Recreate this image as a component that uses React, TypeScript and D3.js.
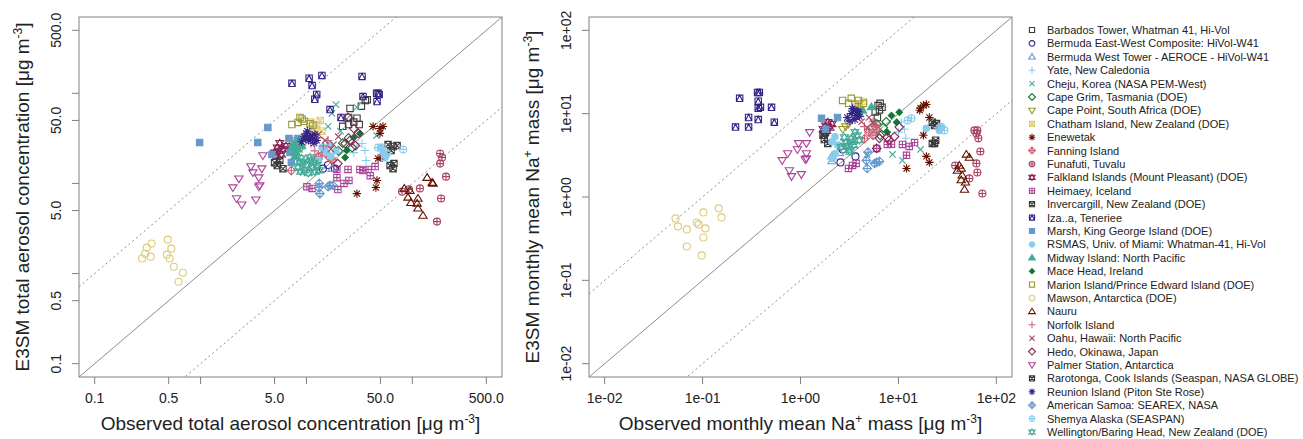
import * as d3 from 'd3';
import React from 'react';

// site names, in legend order
const siteNames = [
  'Barbados Tower, Whatman 41, Hi-Vol',
  'Bermuda East-West Composite: HiVol-W41',
  'Bermuda West Tower - AEROCE - HiVol-W41',
  'Yate, New Caledonia',
  'Cheju, Korea (NASA PEM-West)',
  'Cape Grim, Tasmania (DOE)',
  'Cape Point, South Africa (DOE)',
  'Chatham Island, New Zealand (DOE)',
  'Enewetak',
  'Fanning Island',
  'Funafuti, Tuvalu',
  'Falkland Islands (Mount Pleasant) (DOE)',
  'Heimaey, Iceland',
  'Invercargill, New Zealand (DOE)',
  'Iza..a, Teneriee',
  'Marsh, King George Island (DOE)',
  'RSMAS, Univ. of Miami: Whatman-41, Hi-Vol',
  'Midway Island: North Pacific',
  'Mace Head, Ireland',
  'Marion Island/Prince Edward Island (DOE)',
  'Mawson, Antarctica (DOE)',
  'Nauru',
  'Norfolk Island',
  'Oahu, Hawaii: North Pacific',
  'Hedo, Okinawa, Japan',
  'Palmer Station, Antarctica',
  'Rarotonga, Cook Islands (Seaspan, NASA GLOBE)',
  'Reunion Island (Piton Ste Rose)',
  'American Samoa: SEAREX, NASA',
  'Shemya Alaska (SEASPAN)',
  'Wellington/Baring Head, New Zealand (DOE)',
];

const palette = ['#3a3a3a', '#332288', '#6699CC', '#88CCEE', '#44AA99', '#117733', '#999933',
  '#DDCC77', '#661100', '#CC6677', '#AA4466', '#882255', '#AA4499'];

// total aerosol: [observed, E3SM]
const totBarbados = [[25.8,68],[22,43],[25,45],[30,53],[31.5,45],[33,72],[36,83],[37.5,85],[46,100],[25,54],[28,48]];
const totBermudaEW = [[18.6,14.6],[14.3,14.6],[16,16]];
const totBermudaWT = [[17.5,14.6],[13,20],[15,24]];
const totYate = [[33.5,27.7],[35.7,23.2],[36.5,18],[30,26],[28,22]];
const totCheju = [[19,75],[17.4,60],[16,43],[30,70],[46,34],[24,52],[21,38]];
const totCapeGrim = [[22,28],[25,32],[27,25],[20,23]];
const totCapePoint = [[7.5,27],[8,30],[9,25],[10,33]];
const totChatham = [[11,48],[12.5,45],[13.5,50],[12,40],[14,38],[11.5,36]];
const totEnewetak = [[42.6,42.9],[49.5,40.7],[52.8,42.9],[47.4,18.9],[52,19.4],[46.4,10.8],[45.3,9],[30,7.7],[49.5,35.9]];
const totFanning = [[7.2,13.9],[16.5,19.4],[17.5,18.5],[15,22],[13,20]];
const totFunafuti = [[183,21.5],[191,19.4],[183,16.6],[208,11.9],[187,6.8],[171,3.77],[118,8.8],[80,8.1],[93,8.6]];
const totFalkland = [[5,22],[5.3,25],[5.6,28],[6,24],[5.2,20],[5.8,21],[6.4,26],[5.5,23]];
const totHeimaey = [[10.1,9.2],[11.3,8.8],[19.4,11.6],[19.4,14.3],[22.6,10],[24.7,14.3],[25.2,10.8],[32,14.3],[34.2,13.9],[38.2,14.3],[40,12.2],[44.5,15.4],[19.8,8.55]];
const totInvercargill = [[5.6,18],[6,14.6],[5.3,15.8],[5,17]];
const totIzana = [[7.3,129],[10.6,147],[11.3,122],[14,158],[12.5,97],[12,86],[16.7,66],[33.5,154],[34.2,92],[46.4,81],[47.5,100],[48.6,97],[21.2,54]];
const totMarsh = [[0.98,28.5],[3.47,28.5],[4.32,41.8],[4.72,20.9],[6.84,31.5],[7,22],[7.2,17.1],[7.5,25],[8.3,31.5]];
const totRsmas = [[14,25],[15.5,22],[16.5,27],[17,20],[50,25],[53,22],[56,20],[13,18],[19,23]];
const totMidway = [[7.3,25],[7.6,27],[8,22],[8.3,24],[7.8,20],[9,26],[8.5,30]];
const totMaceHead = [[28,32.4],[32,35.9],[24,23.2],[23.2,19.4]];
const totMarion = [[8.7,54],[9.1,52],[7.3,45],[8.3,47.5],[10.8,46],[9.5,49],[11.5,44]];
const totMawson = [[0.28,1.47],[0.31,1.94],[0.345,2.15],[0.3,1.66],[0.338,1.54],[0.49,2.38],[0.53,1.89],[0.48,1.62],[0.51,1.47],[0.56,1.19],[0.68,1.02],[0.62,0.81]];
const totNauru = [[138,11.6],[154,10.2],[157,10],[84,8.8],[95,8.3],[91,7],[113,6.8],[97,6.1],[111,6],[113,5.3],[126,4.4]];
const totNorfolk = [[11,28],[13,32],[14.5,26],[12,23],[16,30]];
const totOahu = [[13,35],[15,30],[18,27],[20,33],[17,24]];
const totHedo = [[19.8,16.6],[24.7,54],[28,40.7],[31,35.9],[23.2,27.7],[25.8,30],[29,26.3]];
const totPalmer = [[3.88,20.4],[2.99,15.4],[3.79,14.6],[3.12,13.2],[3.55,11.6],[2.3,11.3],[2.02,9],[3.63,9.5],[3.55,9.2],[2.19,6.8],[2.45,5.8],[3.33,6.6]];
const totRarotonga = [[59,27],[65.8,25.7],[71.8,26.3],[61.7,15.8],[65.8,14.6],[67,16.6],[63,23.2]];
const totReunion = [[9.5,33],[10,36],[10.5,30],[11,34],[11.5,31],[9,29],[12,35],[10.2,38],[11.8,28],[9.8,31],[10.8,32.5],[12.5,30]];
const totSamoa = [[13.1,9],[13.4,7.7],[16,9.2],[16.7,9.5],[17.8,9.5],[13.2,10]];
const totShemya = [[47.5,25],[52,25],[57.7,21.5],[82,23.8],[55,19.4]];
const totWellington = [[8.3,15],[8.8,13.5],[9.2,17],[9.6,14],[10,16],[10.4,13],[11,18],[11.5,15],[12,13.5],[12.6,16],[9,19],[10.8,19.5],[13.2,14],[8.6,17.5],[11.8,17]];

// Na+ monthly mean mass: [observed, E3SM]
const naBarbados = [[6.5,13.3],[6.8,11.9],[6.4,11.1],[6.1,9],[5.8,10.5],[6.2,12.5]];
const naBermudaEW = [[3.64,3.07],[2.56,2.6],[2.7,3.72]];
const naBermudaWT = [[2.1,2.7],[2.1,3.1],[2.5,3.4]];
const naYate = [[11.9,5.06],[10.7,7.9],[11.5,6.5],[10,6]];
const naCheju = [[4.8,3.24],[8.7,3.24],[11,2.75],[16.8,3.72],[6.3,5.8],[5.5,8]];
const naCapeGrim = [[6,7.5],[7,6.8],[7.5,8],[6.5,5.5]];
const naCapePoint = [[2.9,7],[3.1,7.5],[2.7,6.5]];
const naChatham = [[3.7,12],[4,13],[4.4,14],[4.2,11],[3.9,10.5]];
const naEnewetak = [[16.8,11.6],[18,12.6],[19.3,12.9],[20.7,9],[18,5.5],[19.3,3.07],[20.7,2.6],[12.1,2.2],[16.5,11]];
const naFanning = [[5,6],[5.5,5.5],[6,6.5],[4.5,5],[5.8,7]];
const naFunafuti = [[59.7,6.3],[64,6.3],[62.6,5.8],[65.5,5.06],[68.7,3.52],[62.6,2.53],[64,1.97],[72,1.1],[53,1.67],[38,2.39]];
const naFalkland = [[1.7,6.5],[1.8,7.2],[1.9,7.9],[2,6.8],[1.75,5.8],[2.1,7.5],[1.85,6.2]];
const naHeimaey = [[3.09,2.2],[3.4,2.39],[3.7,2.53],[7.7,4.27],[11,4.27],[12.9,4.05],[14.6,4.5],[12.1,3.16],[6,3.83],[8.5,4.3]];
const naInvercargill = [[1.7,5.5],[1.9,4.4],[1.8,6],[1.75,4.9]];
const naIzana = [[0.239,15.3],[0.295,9],[0.364,18],[0.38,18],[0.37,14.1],[0.39,11.9],[0.37,11.6],[0.506,11.9],[0.54,7.9],[0.37,8.5],[0.217,6.9],[0.295,6.9]];
const naMarsh = [[1.64,8.8],[2.39,9],[1.8,6.5]];
const naRsmas = [[2.1,4.6],[2.25,5.3],[2.1,2.9],[2.25,3.3],[19.3,6.7],[27.4,6.9],[26.2,6.3],[2.4,4.2]];
const naMidway = [[5.3,12],[4.3,11],[4,10]];
const naMaceHead = [[8.5,9.5],[10.2,10.4],[9.6,7.9],[7.7,5.97]];
const naMarion = [[2.69,14.4],[3.1,13.3],[3.9,14.4],[4.4,13.3],[3.3,15.3],[3.6,13]];
const naMawson = [[0.053,0.553],[0.056,0.444],[0.069,0.408],[0.069,0.255],[0.087,0.495],[0.091,0.469],[0.102,0.653],[0.107,0.42],[0.102,0.327],[0.098,0.199],[0.146,0.73],[0.156,0.569]];
const naNauru = [[41.9,2.39],[43.8,2.2],[40,2.08],[49.4,3.24],[53,2.98],[44.8,1.82],[48.4,1.5],[47.3,1.23],[43.8,1.6]];
const naNorfolk = [[4.5,7],[5,6.5],[5.5,8],[6,7.3]];
const naOahu = [[4.2,8],[5,9],[5.5,7.8],[4.8,6.8]];
const naHedo = [[6,3.83],[6.4,5.06],[7.7,5.2],[9.1,5.3],[10.2,6.9],[8,4.8]];
const naPalmer = [[1.24,5.97],[0.955,4.4],[1.15,4.4],[0.93,3.72],[1.15,3.33],[0.74,3.33],[1.12,2.82],[0.65,2.75],[0.77,2.08],[0.81,1.77],[1.02,1.87],[1.15,2.89]];
const naRarotonga = [[22.2,7.9],[23.4,7.2],[24,4.8],[23.4,4.4],[22.2,4.4],[24.5,7.6]];
const naReunion = [[3,9],[3.3,10],[3.5,11],[3.7,9.5],[3.9,10.5],[3.2,8.2],[3.6,8.5],[4,9.2],[3.4,11.5],[3.8,10.8]];
const naSamoa = [[4.7,2.75],[4.8,2.2],[6,2.6],[6.4,2.67],[4.9,3.45],[5.7,2.53]];
const naShemya = [[13.6,8.8],[12.4,8.3],[26.2,6.7],[27.4,6.9],[29.5,6.3]];
const naWellington = [[2.6,4],[2.9,4.5],[3.1,3.7],[3.3,5],[3.5,4.2],[3.8,5.5],[4,4.8],[2.8,5.2],[3.2,3.5],[3.6,6],[3,4.1],[3.4,4.6]];

const totalSets = [totBarbados, totBermudaEW, totBermudaWT, totYate, totCheju, totCapeGrim, totCapePoint,
  totChatham, totEnewetak, totFanning, totFunafuti, totFalkland, totHeimaey, totInvercargill, totIzana,
  totMarsh, totRsmas, totMidway, totMaceHead, totMarion, totMawson, totNauru, totNorfolk, totOahu, totHedo,
  totPalmer, totRarotonga, totReunion, totSamoa, totShemya, totWellington];
const naSets = [naBarbados, naBermudaEW, naBermudaWT, naYate, naCheju, naCapeGrim, naCapePoint,
  naChatham, naEnewetak, naFanning, naFunafuti, naFalkland, naHeimaey, naInvercargill, naIzana,
  naMarsh, naRsmas, naMidway, naMaceHead, naMarion, naMawson, naNauru, naNorfolk, naOahu, naHedo,
  naPalmer, naRarotonga, naReunion, naSamoa, naShemya, naWellington];

const totTicks = [0.1, 0.5, 1, 5, 10, 50, 100, 500];
const totLabels = ['0.1', '0.5', '5.0', '50.0', '500.0'];
const naTicks = [0.01, 0.1, 1, 10, 100];
const naLabels = ['1e-02', '1e-01', '1e+00', '1e+01', '1e+02'];

const FONT = '"Liberation Sans", Arial, Helvetica, sans-serif';

// R-style plotting symbols
function symbol(pch: number, s: number) {
  const h = 3.2 * s;
  const sq = `M${-h},${-h}H${h}V${h}H${-h}Z`;
  const circ = (r: number) => `M${-r},0A${r},${r} 0 1,0 ${r},0A${r},${r} 0 1,0 ${-r},0Z`;
  const triUp = (k: number) => `M0,${-1.25 * h * k}L${1.3 * h * k},${0.85 * h * k}L${-1.3 * h * k},${0.85 * h * k}Z`;
  const triDn = (k: number) => `M0,${1.25 * h * k}L${1.3 * h * k},${-0.85 * h * k}L${-1.3 * h * k},${-0.85 * h * k}Z`;
  const plus = (a: number) => `M${-a},0H${a}M0,${-a}V${a}`;
  const cross = (a: number) => `M${-a},${-a}L${a},${a}M${-a},${a}L${a},${-a}`;
  const dia = (a: number) => `M0,${-a}L${a},0L0,${a}L${-a},0Z`;
  switch (pch) {
    case 0: return { d: sq, fill: false };
    case 1: return { d: circ(h * 1.1), fill: false };
    case 2: return { d: triUp(1), fill: false };
    case 3: return { d: plus(h * 1.35), fill: false };
    case 4: return { d: cross(h), fill: false };
    case 5: return { d: dia(h * 1.35), fill: false };
    case 6: return { d: triDn(1), fill: false };
    case 7: return { d: sq + cross(h), fill: false };
    case 8: return { d: plus(h * 1.3) + cross(h * 0.95), fill: false };
    case 9: return { d: dia(h * 1.35) + plus(h * 1.35), fill: false };
    case 10: return { d: circ(h * 1.1) + plus(h * 1.1), fill: false };
    case 11: return { d: triUp(0.95) + triDn(0.95), fill: false };
    case 12: return { d: sq + plus(h), fill: false };
    case 13: return { d: sq + cross(h), fill: false };
    case 14: return { d: sq + `M${-h},${h}L0,${-h}L${h},${h}`, fill: false };
    case 15: return { d: sq, fill: true };
    case 16: return { d: circ(h), fill: true };
    case 17: return { d: triUp(1), fill: true };
    default: return { d: dia(h), fill: true };
  }
}

function Marker({ x, y, pch, color, s }: { x: number; y: number; pch: number; color: string; s: number }) {
  const sym = symbol(pch, s);
  return (
    <path transform={`translate(${x},${y})`} d={sym.d}
      fill={sym.fill ? color : 'none'} stroke={color} strokeWidth={1.1} />
  );
}

function Panel({ id, x0, x1, y0, y1, domain, sets, ticks, labelVals, labels, xTitle, yTitle, yLabX, yTitleX }: any) {
  const x = d3.scaleLog().domain(domain).range([x0, x1]);
  const y = d3.scaleLog().domain(domain).range([y1, y0]);
  const [lo, hi] = domain;
  const lines = [
    { k: 1, dash: null },
    { k: 10, dash: '2,3' },
    { k: 0.1, dash: '2,3' },
  ];
  const cx = (x0 + x1) / 2;
  const cy = (y0 + y1) / 2;
  return (
    <g>
      <defs>
        <clipPath id={id}><rect x={x0} y={y0} width={x1 - x0} height={y1 - y0} /></clipPath>
      </defs>
      <g clipPath={`url(#${id})`}>
        {lines.map((l, i) => (
          <line key={i} x1={x(lo)} y1={y(lo * l.k)} x2={x(hi)} y2={y(hi * l.k)}
            stroke="#8c8c8c" strokeWidth={1} strokeDasharray={l.dash ?? undefined} />
        ))}
        {sets.map((pts: number[][], si: number) => pts.map((p, pi) => (
          <Marker key={`${si}-${pi}`} x={x(p[0])} y={y(p[1])} pch={si % 19} color={palette[si % 13]} s={1} />
        )))}
      </g>
      <rect x={x0} y={y0} width={x1 - x0} height={y1 - y0} fill="none" stroke="#808080" strokeWidth={1} />
      {ticks.map((t: number) => (
        <g key={t}>
          <line x1={x(t)} x2={x(t)} y1={y1} y2={y1 + 7} stroke="#808080" />
          <line x1={x0} x2={x0 - 7} y1={y(t)} y2={y(t)} stroke="#808080" />
        </g>
      ))}
      {labelVals.map((t: number, i: number) => (
        <g key={t} fontFamily={FONT} fontSize={14} fill="#222">
          <text x={x(t)} y={403} textAnchor="middle">{labels[i]}</text>
          <text transform={`translate(${yLabX},${y(t)}) rotate(-90)`} textAnchor="middle">{labels[i]}</text>
        </g>
      ))}
      <text x={cx} y={430} textAnchor="middle" fontFamily={FONT} fontSize={19} fill="#222">{xTitle}</text>
      <text transform={`translate(${yTitleX},${cy}) rotate(-90)`} textAnchor="middle" fontFamily={FONT} fontSize={19} fill="#222">{yTitle}</text>
    </g>
  );
}

const sup = (t: string) => <tspan dy={-7} fontSize={12}>{t}</tspan>;
const unit = <>[μg m{sup('-3')}<tspan dy={7}>]</tspan></>;

export default function App() {
  const legendY = (i: number) => 30 + i * 13.4;
  return (
    <svg width={1303} height={439} style={{ position: 'absolute', left: 0, top: 0, background: '#fff' }}>
      <Panel id="cl" x0={79} x1={502} y0={17} y1={377}
        domain={[Math.pow(10, -1.148), Math.pow(10, 2.847)]}
        sets={totalSets} ticks={totTicks} labelVals={[0.1, 0.5, 5, 50, 500]} labels={totLabels}
        yLabX={61} yTitleX={29}
        xTitle={<>Observed total aerosol concentration {unit}</>}
        yTitle={<>E3SM total aerosol concentration {unit}</>} />
      <Panel id="cr" x0={589} x1={1012} y0={17} y1={377}
        domain={[Math.pow(10, -2.16), Math.pow(10, 2.16)]}
        sets={naSets} ticks={naTicks} labelVals={naTicks} labels={naLabels}
        yLabX={571} yTitleX={539}
        xTitle={<>Observed monthly mean Na{sup('+')}<tspan dy={7}> mass </tspan>{unit}</>}
        yTitle={<>E3SM monthly mean Na{sup('+')}<tspan dy={7}> mass </tspan>{unit}</>} />
      {siteNames.map((n, i) => (
        <g key={n}>
          <Marker x={1032} y={legendY(i)} pch={i % 19} color={palette[i % 13]} s={0.8} />
          <text x={1047} y={legendY(i) + 4} fontFamily={FONT} fontSize={11} fill="#222">{n}</text>
        </g>
      ))}
    </svg>
  );
}
